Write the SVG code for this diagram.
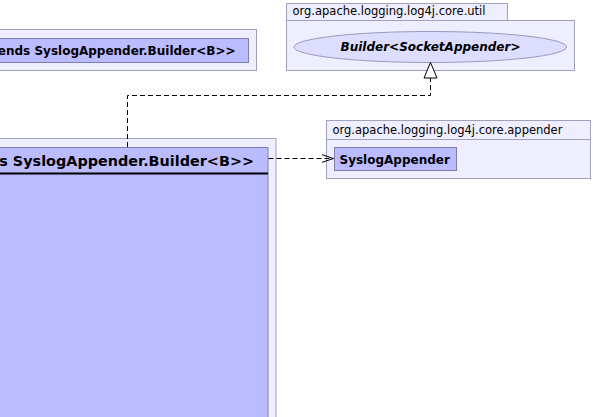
<svg xmlns="http://www.w3.org/2000/svg" width="593" height="417" viewBox="0 0 593 417">
<defs>
<style>
.pkg{fill:#EEEEFF;stroke:#A0A0C0;stroke-width:1}
.cls{fill:#BBBBFF;stroke:#7E7EAE;stroke-width:1}
.lbl{font-family:"DejaVu Sans",sans-serif;font-size:11.5px;fill:#000}
.name{font-family:"DejaVu Sans",sans-serif;font-size:12px;font-weight:bold;fill:#000}
.conn{fill:none;stroke:#000;stroke-width:1;stroke-dasharray:5,3}
</style>
<marker id="open" markerWidth="14" markerHeight="10" refX="12" refY="5" orient="auto" markerUnits="userSpaceOnUse">
<path d="M0,1 L12,5 L0,9" fill="none" stroke="#000" stroke-width="1"/>
</marker>
</defs>
<rect width="593" height="417" fill="#FFFFFF"/>
<g id="pkg-topleft">
<rect class="pkg" x="-10" y="29.5" width="266.5" height="41"/>
<g id="node-builder-topleft">
<rect class="cls" x="-10" y="38.5" width="258.5" height="24"/>
<text class="name" x="235.5" y="55" text-anchor="end">ends SyslogAppender.Builder&lt;B&gt;&gt;</text>
</g>
</g>
<g id="pkg-util">
<path class="pkg" d="M286.5,20.5 L286.5,3.5 L507.5,3.5 L507.5,20.5 Z"/>
<rect class="pkg" x="286.5" y="20.5" width="288" height="50"/>
<text class="lbl" x="292.5" y="15">org.apache.logging.log4j.core.util</text>
<g id="node-builder-socket">
<ellipse cx="430.3" cy="47" rx="136.3" ry="15.5" fill="#DDDDFF" stroke="#9A9ABE" stroke-width="1"/>
<text class="name" x="430.5" y="50.5" text-anchor="middle" font-style="italic">Builder&lt;SocketAppender&gt;</text>
</g>
</g>
<g id="pkg-appender">
<rect class="pkg" x="326.5" y="120.5" width="264" height="19"/>
<rect class="pkg" x="326.5" y="139.5" width="264" height="39"/>
<text class="lbl" x="332.5" y="133.5">org.apache.logging.log4j.core.appender</text>
<g id="node-syslogappender">
<rect class="cls" x="334.5" y="147.5" width="122" height="23"/>
<text class="name" x="339.5" y="163.5">SyslogAppender</text>
</g>
</g>
<g id="pkg-main">
<rect class="pkg" x="-10" y="138.5" width="286" height="300"/>
<g id="node-main-builder">
<rect class="cls" x="-10" y="147.5" width="278" height="290"/>
<line x1="-10" y1="173.5" x2="268" y2="173.5" stroke="#000" stroke-width="2"/>
<text class="name" x="254" y="165.5" text-anchor="end" style="font-size:14.4px">s SyslogAppender.Builder&lt;B&gt;&gt;</text>
</g>
</g>
<g id="connectors">
<path class="conn" d="M127.5,147 L127.5,95.5 L430.5,95.5 L430.5,78"/>
<path d="M424,78 L437,78 L430.5,62.5 Z" fill="#FFFFFF" stroke="#000" stroke-width="1"/>
<path class="conn" d="M268.5,158.5 L333.5,158.5" marker-end="url(#open)"/>
</g>
</svg>
